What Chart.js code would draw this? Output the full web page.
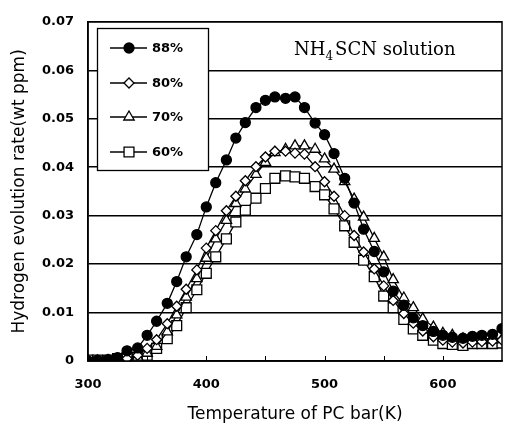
<!DOCTYPE html>
<html>
<head>
<meta charset="utf-8">
<script src="https://cdn.jsdelivr.net/npm/chart.js@4.4.1/dist/chart.umd.min.js"></script>
<style>
  html, body { margin: 0; padding: 0; background: #fff; }
  #wrap { width: 512px; height: 429px; }
</style>
</head>
<body>
<div id="wrap"><canvas id="h2Chart" width="512" height="429"></canvas></div>
<script>
// temperature of PC bar (K)
var temps = [300, 308, 317, 325, 333, 342, 350, 358, 367, 375, 383, 392, 400, 408, 417, 425, 433, 442, 450, 458, 467, 475,
  483, 492, 500, 508, 517, 525, 533, 542, 550, 558, 567, 575, 583, 592, 600, 608, 617, 625, 633, 642, 650];

var rh88 = [0.0000, 0.0002, 0.0003, 0.0007, 0.0021, 0.0027, 0.0053, 0.0082, 0.0119, 0.0164, 0.0215, 0.0261, 0.0318, 0.0368,
  0.0415, 0.0460, 0.0492, 0.0523, 0.0538, 0.0545, 0.0542, 0.0545, 0.0523, 0.0491, 0.0467, 0.0428, 0.0377, 0.0326, 0.0272,
  0.0226, 0.0184, 0.0144, 0.0115, 0.0089, 0.0073, 0.0061, 0.0053, 0.0049, 0.0047, 0.0051, 0.0053, 0.0055, 0.0067];

var rh80 = [0.0000, 0.0000, 0.0001, 0.0002, 0.0005, 0.0012, 0.0026, 0.0044, 0.0077, 0.0113, 0.0148, 0.0188, 0.0233, 0.0269,
  0.0310, 0.0340, 0.0372, 0.0401, 0.0421, 0.0433, 0.0433, 0.0429, 0.0427, 0.0401, 0.0370, 0.0340, 0.0300, 0.0259, 0.0225,
  0.0190, 0.0155, 0.0125, 0.0098, 0.0078, 0.0062, 0.0050, 0.0043, 0.0039, 0.0037, 0.0039, 0.0040, 0.0041, 0.0043];

var rh70 = [0.0000, 0.0000, 0.0001, 0.0002, 0.0004, 0.0008, 0.0016, 0.0030, 0.0060, 0.0095, 0.0132, 0.0170, 0.0212, 0.0252,
  0.0290, 0.0325, 0.0355, 0.0385, 0.0410, 0.0430, 0.0437, 0.0444, 0.0444, 0.0437, 0.0417, 0.0396, 0.0370, 0.0334, 0.0297,
  0.0253, 0.0215, 0.0168, 0.0130, 0.0110, 0.0087, 0.0070, 0.0057, 0.0053, 0.0046, 0.0043, 0.0042, 0.0043, 0.0045];

var rh60 = [0.0002, 0.0002, 0.0002, 0.0005, 0.0007, 0.0007, 0.0012, 0.0026, 0.0046, 0.0073, 0.0110, 0.0147, 0.0181, 0.0215,
  0.0252, 0.0287, 0.0311, 0.0336, 0.0356, 0.0377, 0.0382, 0.0380, 0.0377, 0.0360, 0.0343, 0.0314, 0.0279, 0.0245, 0.0208,
  0.0174, 0.0134, 0.0110, 0.0086, 0.0066, 0.0053, 0.0043, 0.0036, 0.0034, 0.0032, 0.0036, 0.0036, 0.0036, 0.0037];

var seriesLabels = ['88%', '80%', '70%', '60%'];
var xTickValues = [300, 400, 500, 600];
var xMinorTicks = [350, 400, 450, 500, 550, 600];

var tickFont = { family: 'DejaVu Sans', size: 13, weight: 'bold' };
var titleFont = { family: 'DejaVu Sans', size: 17 };

function pts(vals) {
  return vals.map(function (v, i) { return { x: temps[i], y: v }; });
}

var markers = [
  { pointStyle: 'circle', pointRadius: 5, bg: '#000' },
  { pointStyle: 'rectRot', pointRadius: 5, bg: '#fff' },
  { pointStyle: 'triangle', pointRadius: 6, bg: '#fff' },
  { pointStyle: 'rect', pointRadius: 7, bg: '#fff' }
];

var allData = [rh88, rh80, rh70, rh60];
var datasets = allData.map(function (vals, i) {
  return {
    label: seriesLabels[i],
    data: pts(vals),
    showLine: true,
    borderColor: '#000',
    borderWidth: 1.3,
    pointStyle: markers[i].pointStyle,
    pointRadius: markers[i].pointRadius,
    pointBackgroundColor: markers[i].bg,
    pointBorderColor: '#000',
    pointBorderWidth: 1.3,
    tension: 0
  };
});

// frame, minor ticks, legend box and the solution label
var decor = {
  id: 'decor',
  afterDraw: function (chart) {
    var ctx = chart.ctx;
    var a = chart.chartArea;
    var xs = chart.scales.x;
    ctx.save();
    ctx.strokeStyle = '#000';
    ctx.lineWidth = 1.5;
    ctx.strokeRect(a.left, a.top, a.right - a.left, a.bottom - a.top);

    ctx.lineWidth = 1;
    xMinorTicks.forEach(function (t) {
      var px = Math.round(xs.getPixelForValue(t)) + 0.5;
      ctx.beginPath();
      ctx.moveTo(px, a.bottom);
      ctx.lineTo(px, a.bottom - 5);
      ctx.stroke();
    });

    // legend
    ctx.fillStyle = '#fff';
    ctx.fillRect(97, 28, 111, 142);
    ctx.lineWidth = 1.3;
    ctx.strokeRect(97.5, 28.5, 111, 142);
    var rows = [48, 83, 117, 152];
    rows.forEach(function (y, i) {
      ctx.strokeStyle = '#000';
      ctx.lineWidth = 1.3;
      ctx.beginPath();
      ctx.moveTo(110, y);
      ctx.lineTo(147, y);
      ctx.stroke();
      ctx.fillStyle = markers[i].bg;
      ctx.strokeStyle = '#000';
      Chart.helpers.drawPoint(ctx, {
        pointStyle: markers[i].pointStyle,
        radius: markers[i].pointRadius,
        rotation: 0,
        borderWidth: 1.3
      }, 129, y);
      ctx.fillStyle = '#000';
      ctx.font = 'bold 13px "DejaVu Sans"';
      ctx.textBaseline = 'middle';
      ctx.textAlign = 'left';
      ctx.fillText(seriesLabels[i], 152, y + 1);
    });

    // NH4SCN solution
    ctx.fillStyle = '#000';
    ctx.textBaseline = 'alphabetic';
    ctx.font = '18px "DejaVu Serif"';
    var x0 = 294, y0 = 55;
    ctx.fillText('NH', x0, y0);
    x0 += ctx.measureText('NH').width;
    ctx.font = '12px "DejaVu Serif"';
    ctx.fillText('4', x0, y0 + 5);
    x0 += ctx.measureText('4').width + 2;
    ctx.font = '18px "DejaVu Serif"';
    ctx.fillText('SCN solution', x0, y0);
    ctx.restore();
  }
};

var ctx = document.getElementById('h2Chart').getContext('2d');
var h2Chart = new Chart(ctx, {
  type: 'scatter',
  data: { datasets: datasets },
  options: {
    responsive: false,
    animation: false,
    layout: { padding: { top: 15, right: 10, left: 0, bottom: 0 } },
    plugins: {
      legend: { display: false },
      tooltip: { enabled: false }
    },
    scales: {
      x: {
        type: 'linear',
        min: 300,
        max: 650,
        afterBuildTicks: function (scale) {
          scale.ticks = xTickValues.map(function (v) { return { value: v }; });
        },
        afterFit: function (scale) { scale.height = 68; },
        grid: { display: false, drawTicks: false },
        border: { color: '#000', width: 1.5 },
        ticks: { color: '#000', font: tickFont, padding: 16, maxRotation: 0 },
        title: {
          display: true,
          text: 'Temperature of PC bar(K)',
          color: '#000',
          font: titleFont,
          padding: { top: 5 }
        }
      },
      y: {
        min: 0,
        max: 0.07,
        afterFit: function (scale) { scale.width = 88; },
        grid: { color: '#000', lineWidth: 1.5, drawTicks: false },
        border: { color: '#000', width: 1.5 },
        ticks: {
          stepSize: 0.01,
          color: '#000',
          font: tickFont,
          padding: 14,
          callback: function (v) { return v === 0 ? '0' : v.toFixed(2); }
        },
        title: {
          display: true,
          text: 'Hydrogen evolution rate(wt ppm)',
          color: '#000',
          font: titleFont,
          padding: { top: 9, bottom: 4 }
        }
      }
    }
  },
  plugins: [decor]
});
</script>
</body>
</html>
